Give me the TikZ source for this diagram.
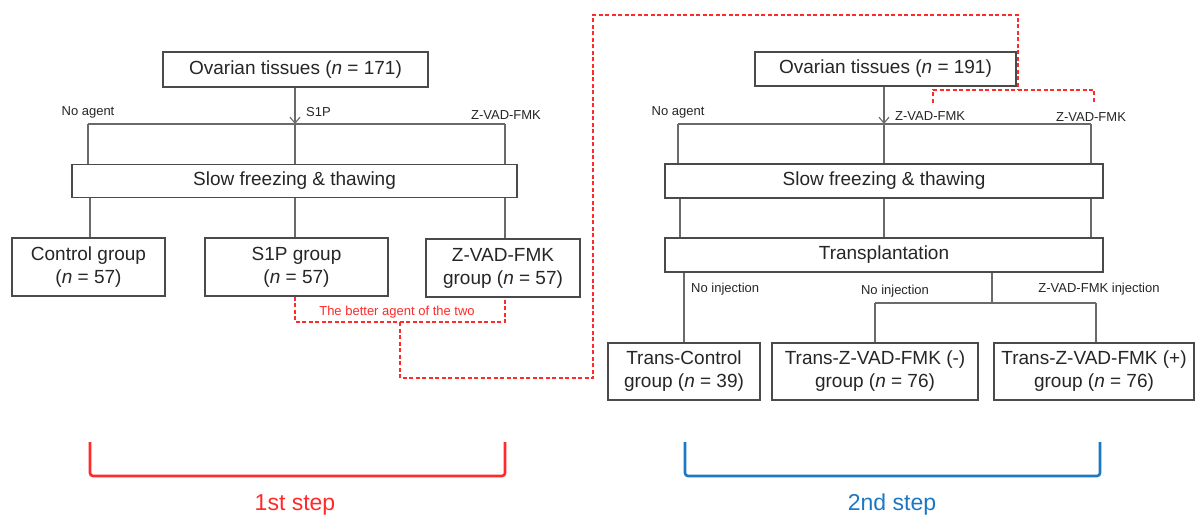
\documentclass[tikz,border=0pt]{standalone}
\usepackage{fontspec}
\setmainfont{Liberation Sans}
\usetikzlibrary{arrows.meta}
\definecolor{boxline}{HTML}{4A4A4A}
\definecolor{connc}{HTML}{6A6A6A}
\definecolor{myred}{HTML}{FF2A2A}
\definecolor{myblue}{HTML}{1C78C4}
\definecolor{txt}{HTML}{262626}
\begin{document}
\begin{tikzpicture}[x=1pt,y=-1pt,
  box/.style={draw=boxline, line width=1.3pt, fill=white, inner sep=0pt, align=center, text=txt, font=\fontsize{19}{23}\selectfont},
  conn/.style={draw=connc, line width=1.1pt},
  lab/.style={text=txt, font=\fontsize{13}{15}\selectfont, inner sep=0pt},
  rlab/.style={text=myred, font=\fontsize{13}{15}\selectfont, inner sep=0pt},
  rdash/.style={draw=myred, line width=1.1pt, dash pattern=on 4pt off 2.5pt},
  brk/.style={line width=2.6pt, rounded corners=3pt},
  steplab/.style={font=\fontsize{23}{27}\selectfont, inner sep=0pt},
  arr/.style={-{Straight Barb[length=6pt,width=10pt]}}
]
\fill[white] (0,0) rectangle (1198,516);
\useasboundingbox (0,0) rectangle (1198,516);

% ---------- Left (1st step) ----------
\node[box, minimum width=265pt, minimum height=35pt] (t1) at (295.5,69.5) {Ovarian tissues (\textit{n} = 171)};
\node[box, minimum width=445pt, minimum height=33pt] (s1) at (294.5,181) {Slow freezing \& thawing};
\node[box, minimum width=153pt, minimum height=58pt] (c1) at (88.5,267) {Control group\\(\textit{n} = 57)};
\node[box, minimum width=183pt, minimum height=58pt] (g1) at (296.5,267) {S1P group\\(\textit{n} = 57)};
\node[box, minimum width=154pt, minimum height=58pt] (z1) at (503,268) {Z-VAD-FMK\\group (\textit{n} = 57)};

\coordinate (h1a) at (88,124);
\coordinate (h1b) at (295,124);
\coordinate (h1c) at (505,124);
\draw[conn, arr] (t1.south -| h1b) -- (h1b);
\draw[conn] (h1a) -- (h1c);
\draw[conn] (h1a) -- (h1a |- s1.north);
\draw[conn] (h1b) -- (h1b |- s1.north);
\draw[conn] (h1c) -- (h1c |- s1.north);
\draw[conn] (s1.south -| 90,0) -- (c1.north -| 90,0);
\draw[conn] (s1.south -| h1b) -- (g1.north -| h1b);
\draw[conn] (s1.south -| h1c) -- (z1.north -| h1c);

\node[lab] (la1) at (88,112) {No agent};
\node[lab, anchor=west] (la2) at (306,112) {S1P};
\node[lab] (la3) at (506,115) {Z-VAD-FMK};

% ---------- Right (2nd step) ----------
\node[box, minimum width=261pt, minimum height=34pt] (t2) at (885.5,69) {Ovarian tissues (\textit{n} = 191)};
\node[box, minimum width=438pt, minimum height=34pt] (s2) at (884,181) {Slow freezing \& thawing};
\node[box, minimum width=438pt, minimum height=34pt] (tr) at (884,255) {Transplantation};
\node[box, minimum width=152pt, minimum height=57pt] (tc) at (684,371.5) {Trans-Control\\group (\textit{n} = 39)};
\node[box, minimum width=206pt, minimum height=57pt] (tm) at (875,371.5) {Trans-Z-VAD-FMK (-)\\group (\textit{n} = 76)};
\node[box, minimum width=200pt, minimum height=57pt] (tp) at (1094,371.5) {Trans-Z-VAD-FMK (+)\\group (\textit{n} = 76)};

\coordinate (h2a) at (678,124);
\coordinate (h2b) at (884,124);
\coordinate (h2c) at (1091,124);
\draw[conn, arr] (t2.south -| h2b) -- (h2b);
\draw[conn] (h2a) -- (h2c);
\draw[conn] (h2a) -- (h2a |- s2.north);
\draw[conn] (h2b) -- (h2b |- s2.north);
\draw[conn] (h2c) -- (h2c |- s2.north);
\draw[conn] (s2.south -| 680,0) -- (tr.north -| 680,0);
\draw[conn] (s2.south -| h2b) -- (tr.north -| h2b);
\draw[conn] (s2.south -| h2c) -- (tr.north -| h2c);

\coordinate (j1) at (992,303);
\coordinate (j2) at (875,303);
\coordinate (j3) at (1096,303);
\draw[conn] (tr.south -| tc.north) -- (tc.north);
\draw[conn] (tr.south -| j1) -- (j1);
\draw[conn] (j2) -- (j3);
\draw[conn] (j2) -- (tm.north -| j2);
\draw[conn] (j3) -- (tp.north -| j3);

\node[lab] (lb1) at (678,112) {No agent};
\node[lab, anchor=west] (lb2) at (895,116) {Z-VAD-FMK};
\node[lab] (lb3) at (1091,117) {Z-VAD-FMK};
\node[lab, anchor=west] (lb4) at (691,289) {No injection};
\node[lab] (lb5) at (895,291) {No injection};
\node[lab] (lb6) at (1099,289) {Z-VAD-FMK injection};

% ---------- Red dashed links ----------
\coordinate (r1) at (295,322);
\coordinate (r2) at (505,322);
\coordinate (r3) at (400,322);
\coordinate (r4) at (400,378);
\coordinate (r5) at (593,378);
\coordinate (r6) at (593,15);
\coordinate (r7) at (1018,15);
\coordinate (r8) at (1018,90);
\coordinate (r9) at (933,90);
\coordinate (r10) at (1094,90);
\draw[rdash] (g1.south -| r1) -- (r1) -- (r2) -- (z1.south -| r2);
\draw[rdash] (r3) -- (r4) -- (r5) -- (r6) -- (r7) -- (r8);
\draw[rdash] (933,103) -- (r9) -- (r10) -- (1094,103);
\node[rlab] (better) at (397,312) {The better agent of the two};

% ---------- Step brackets ----------
\coordinate (ba) at (90,442);
\coordinate (bb) at (505,442);
\draw[brk, myred] (ba) -- (ba |- 0,476) -- (bb |- 0,476) -- (bb);
\node[steplab, text=myred] (st1) at (295,505) {1st step};
\coordinate (bc) at (685,442);
\coordinate (bd) at (1100,442);
\draw[brk, myblue] (bc) -- (bc |- 0,476) -- (bd |- 0,476) -- (bd);
\node[steplab, text=myblue] (st2) at (892,505) {2nd step};
\end{tikzpicture}
\end{document}
